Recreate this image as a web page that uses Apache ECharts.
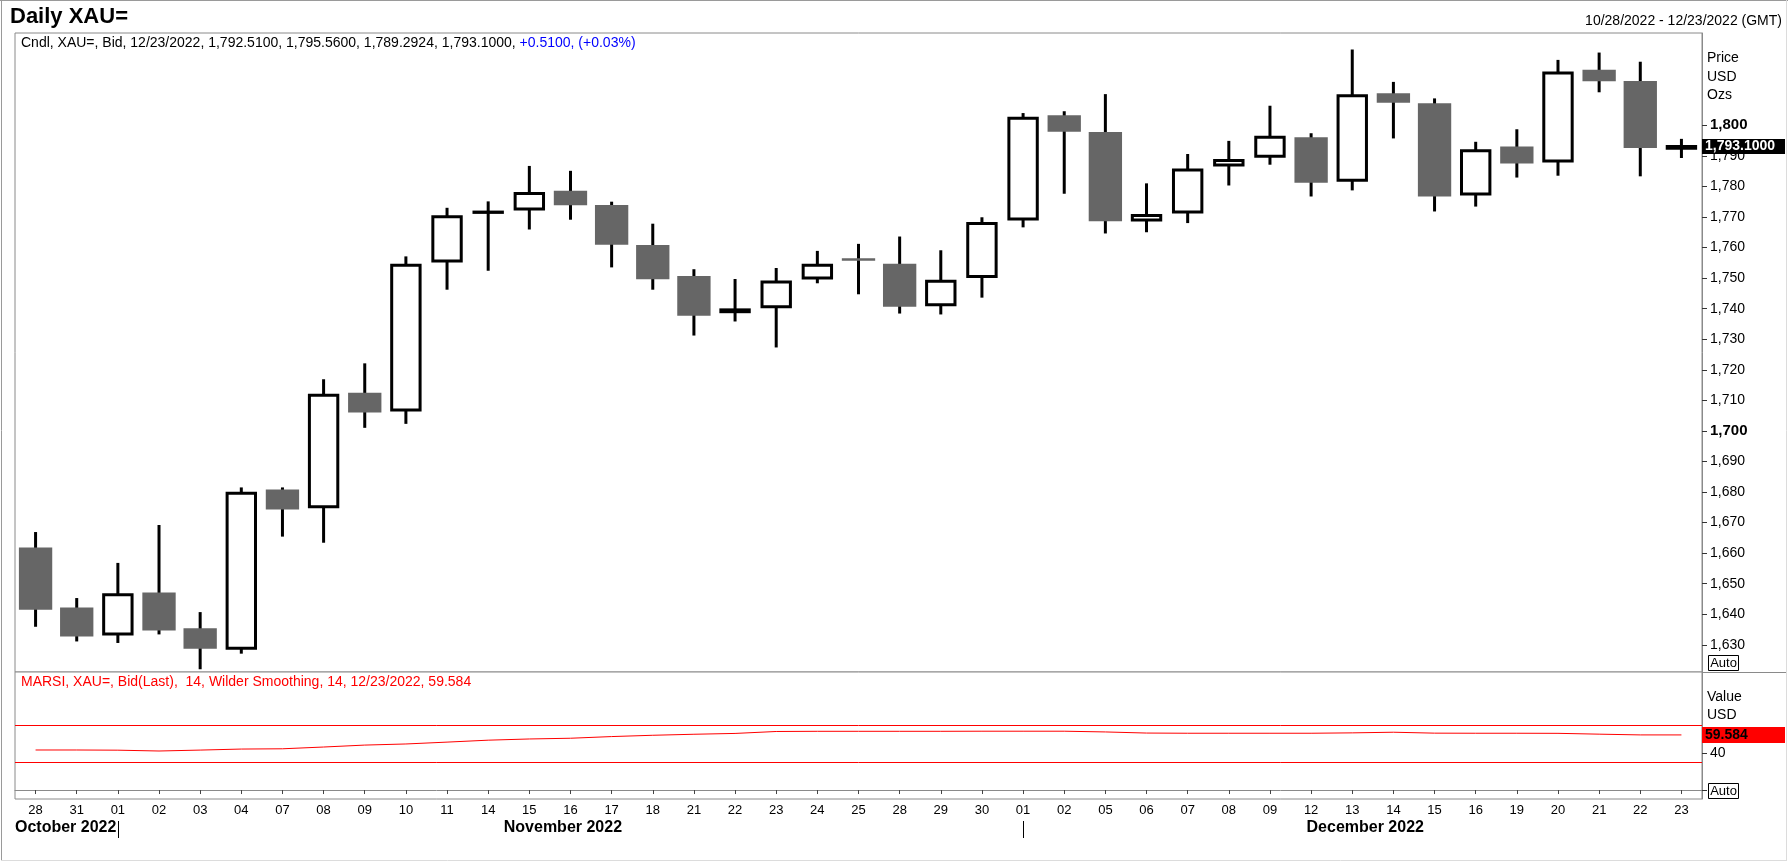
<!DOCTYPE html>
<html>
<head>
<meta charset="utf-8">
<script src="https://cdn.jsdelivr.net/npm/echarts@6/dist/echarts.min.js"></script>
<style>
html,body{margin:0;padding:0;background:#fff;}
#c{width:1788px;height:862px;}
</style>
</head>
<body>
<div id="c"></div>
<script>
// ---------- data ----------
const dates = ['2022-10-28','2022-10-31','2022-11-01','2022-11-02','2022-11-03','2022-11-04','2022-11-07','2022-11-08','2022-11-09','2022-11-10','2022-11-11','2022-11-14','2022-11-15','2022-11-16','2022-11-17','2022-11-18','2022-11-21','2022-11-22','2022-11-23','2022-11-24','2022-11-25','2022-11-28','2022-11-29','2022-11-30','2022-12-01','2022-12-02','2022-12-05','2022-12-06','2022-12-07','2022-12-08','2022-12-09','2022-12-12','2022-12-13','2022-12-14','2022-12-15','2022-12-16','2022-12-19','2022-12-20','2022-12-21','2022-12-22','2022-12-23'];
const openVals  = [1661.8,1642.2,1633.5,1647.1,1635.4,1628.9,1680.8,1675.2,1712.5,1706.8,1755.6,1771.5,1772.6,1778.6,1773.9,1760.8,1750.7,1739.0,1740.6,1750.0,1756.2,1754.7,1741.3,1750.5,1769.3,1803.3,1797.8,1769.0,1771.6,1787.0,1789.9,1796.1,1782.0,1810.5,1807.2,1777.5,1793.1,1788.3,1818.2,1814.5,1792.51];
const closeVals = [1641.5,1632.7,1646.4,1634.7,1628.7,1679.6,1674.3,1711.7,1706.0,1754.2,1770.1,1771.6,1777.7,1773.8,1760.9,1749.6,1737.7,1739.6,1748.7,1754.2,1756.0,1740.6,1749.0,1767.9,1802.3,1797.9,1768.6,1770.5,1785.4,1788.5,1796.1,1781.2,1809.7,1807.4,1776.7,1791.7,1787.5,1817.1,1814.4,1792.59,1793.10];
const lowVals   = [1635.9,1631.1,1630.6,1633.4,1622.0,1627.1,1665.4,1663.4,1701.0,1702.3,1746.2,1752.4,1765.9,1769.1,1753.5,1746.2,1731.2,1735.8,1727.3,1748.3,1744.7,1738.4,1738.1,1743.6,1766.6,1777.6,1764.6,1765.0,1768.0,1780.3,1787.1,1776.7,1778.7,1795.7,1771.8,1773.4,1782.9,1783.5,1810.8,1783.3,1789.2924];
const highVals  = [1666.9,1645.3,1656.8,1669.2,1640.7,1681.5,1681.5,1716.9,1722.1,1757.1,1773.0,1775.1,1786.7,1785.1,1775.0,1767.8,1752.9,1749.7,1753.3,1758.9,1761.2,1763.6,1759.1,1769.9,1804.0,1804.6,1810.2,1781.0,1790.6,1794.9,1806.4,1797.4,1824.8,1814.2,1808.8,1794.6,1798.7,1821.4,1823.8,1820.8,1795.56];
const rsiVals   = [43.3,43.3,43.1,42.2,43.2,44.3,44.6,46.5,48.6,49.8,51.8,53.9,55.2,56.0,57.8,59.2,60.3,61.2,63.3,63.5,63.5,63.5,63.5,63.6,63.6,63.6,62.8,61.6,61.4,61.4,61.4,61.4,61.8,62.5,61.5,61.4,61.4,61.3,60.4,59.6,59.584];
const rsiLevels = [70, 30];
const priceTicks = [1630,1640,1650,1660,1670,1680,1690,1700,1710,1720,1730,1740,1750,1760,1770,1780,1790,1800];
const rsiTicks = [0, 40];
const rsiLabelTicks = [40];
const monthNames = ['January','February','March','April','May','June','July','August','September','October','November','December'];

// ---------- helpers ----------
const FONT = '"Liberation Sans", Arial, Helvetica, sans-serif';
const fmtN = (v, d) => v.toLocaleString('en-US', {minimumFractionDigits: d, maximumFractionDigits: d});
const mdy = s => s.slice(5,7) + '/' + s.slice(8,10) + '/' + s.slice(0,4);
const n = dates.length;
const last = n - 1;
const chg = closeVals[last] - closeVals[last-1];
const chgPct = chg / closeVals[last-1] * 100;
const sign = v => (v >= 0 ? '+' : '');
const lastRsi = rsiVals[last];

const candleData = dates.map((d, i) => [i, openVals[i], closeVals[i], lowVals[i], highVals[i]]);

function renderCandle(params, api) {
  const i = api.value(0);
  const o = api.value(1), c = api.value(2), l = api.value(3), h = api.value(4);
  const pO = api.coord([i, o]);
  const x = pO[0];
  const yO = pO[1];
  const yC = api.coord([i, c])[1];
  const yL = api.coord([i, l])[1];
  const yH = api.coord([i, h])[1];
  const band = api.size([1, 0])[0];
  const up = c >= o;
  const top = Math.min(yO, yC), bot = Math.max(yO, yC);
  const children = [{
    type: 'line',
    shape: {x1: x, y1: yH, x2: x, y2: yL},
    style: {stroke: '#000', lineWidth: 3}
  }];
  if (up) {
    const w = band * 0.69;
    children.push({
      type: 'rect',
      shape: {x: x - w / 2, y: top, width: w, height: bot - top},
      style: {fill: '#fff', stroke: '#000', lineWidth: 3}
    });
  } else {
    const w = band * 0.81;
    let t = top, hh = bot - top;
    if (hh < 2.5) { t = (top + bot) / 2 - 1.25; hh = 2.5; }
    children.push({
      type: 'rect',
      shape: {x: x - w / 2, y: t, width: w, height: hh},
      style: {fill: '#666666'}
    });
  }
  return {type: 'group', children};
}

const chart = echarts.init(document.getElementById('c'), null, {renderer: 'canvas'});

const GL = 15, GR = 1702, GT = 33, GM = 672, GB = 799;

const option = {
  animation: false,
  backgroundColor: '#fff',
  textStyle: {fontFamily: FONT},
  grid: [
    {left: GL, top: GT, width: GR - GL, height: GM - GT, show: true, borderColor: '#8a8a8a', borderWidth: 1, backgroundColor: '#fff', containLabel: false},
    {left: GL, top: GM, width: GR - GL, height: GB - GM, show: true, borderColor: '#8a8a8a', borderWidth: 1, backgroundColor: '#fff', containLabel: false}
  ],
  xAxis: [
    {type: 'category', gridIndex: 0, data: dates, boundaryGap: true, show: false},
    {type: 'category', gridIndex: 1, data: dates, boundaryGap: true,
      axisLine: {show: true, lineStyle: {color: '#8a8a8a'}},
      axisTick: {show: true, alignWithLabel: true, interval: 0, length: 4, lineStyle: {color: '#444'}},
      axisLabel: {interval: 0, margin: 5, color: '#000', fontSize: 13, fontFamily: FONT, formatter: v => v.slice(8, 10)},
      splitLine: {show: false}}
  ],
  yAxis: [
    {type: 'value', gridIndex: 0, position: 'right', min: 1621.1, max: 1830.2, scale: true,
      axisLine: {show: true, lineStyle: {color: '#8a8a8a'}},
      axisTick: {show: true, customValues: priceTicks, length: 5, lineStyle: {color: '#333'}},
      axisLabel: {show: true, customValues: priceTicks, margin: 8, color: '#000', fontFamily: FONT,
        formatter: v => (v % 100 === 0 ? '{b|' + fmtN(v, 0) + '}' : '{r|' + fmtN(v, 0) + '}'),
        rich: {b: {fontSize: 15, fontWeight: 'bold', color: '#000', fontFamily: FONT}, r: {fontSize: 14, color: '#000', fontFamily: FONT}}},
      splitLine: {show: false}},
    {type: 'value', gridIndex: 1, position: 'right', min: -9.68, max: 127.6,
      axisLine: {show: true, lineStyle: {color: '#8a8a8a'}},
      axisTick: {show: true, customValues: rsiTicks, length: 5, lineStyle: {color: '#333'}},
      axisLabel: {show: true, customValues: rsiLabelTicks, margin: 8, color: '#000', fontSize: 14, fontFamily: FONT,
        formatter: v => String(v)},
      splitLine: {show: false}}
  ],
  series: [
    {
      type: 'custom', name: 'Cndl', xAxisIndex: 0, yAxisIndex: 0,
      renderItem: renderCandle,
      encode: {x: 0, y: [1, 2, 3, 4]},
      data: candleData,
      clip: false,
      z: 3,
      markLine: {
        silent: true, animation: false, symbol: ['none', 'none'],
        data: [{yAxis: closeVals[last]}],
        lineStyle: {color: 'rgba(0,0,0,0)', width: 1},
        label: {show: true, position: 'end', distance: 0, formatter: fmtN(closeVals[last], 4),
          backgroundColor: '#000', color: '#fff', fontWeight: 'bold', fontSize: 14, fontFamily: FONT,
          lineHeight: 14, width: 77, padding: [1, 3, 0, 3], align: 'left'}
      }
    },
    {
      type: 'line', name: 'MARSI', xAxisIndex: 1, yAxisIndex: 1,
      data: rsiVals, symbol: 'none', showSymbol: false,
      clip: false,
      lineStyle: {color: '#ff0000', width: 1}, itemStyle: {color: '#ff0000'},
      z: 3,
      markLine: {
        silent: true, animation: false, symbol: ['none', 'none'],
        data: rsiLevels.map(v => ({yAxis: v, label: {show: false}, lineStyle: {color: '#ff0000', width: 1, type: 'solid'}}))
          .concat([{yAxis: lastRsi, lineStyle: {color: 'rgba(0,0,0,0)', width: 1},
            label: {show: true, position: 'end', distance: 0, formatter: lastRsi.toFixed(3),
              backgroundColor: '#ff0000', color: '#000', fontWeight: 'bold', fontSize: 14, fontFamily: FONT,
              lineHeight: 14, width: 77, padding: [1, 3, 1, 3], align: 'left'}}])
      }
    }
  ]
};
chart.setOption(option);

// ---------- annotation / chrome ----------
const headerMain = 'Cndl, XAU=, Bid, ' + mdy(dates[last]) + ', ' + fmtN(openVals[last], 4) + ', ' + fmtN(highVals[last], 4) + ', ' + fmtN(lowVals[last], 4) + ', ' + fmtN(closeVals[last], 4) + ', ';
const headerChg = sign(chg) + fmtN(chg, 4) + ', (' + sign(chgPct) + chgPct.toFixed(2) + '%)';
const rsiHeader = 'MARSI, XAU=, Bid(Last),  14, Wilder Smoothing, 14, ' + mdy(dates[last]) + ', ' + lastRsi.toFixed(3);

const g = [];
const Z = 100;
// outer frame
g.push({type: 'line', z: Z, silent: true, shape: {x1: 0, y1: 0.5, x2: 1788, y2: 0.5}, style: {stroke: '#9a9a9a', lineWidth: 1}});
g.push({type: 'line', z: Z, silent: true, shape: {x1: 1.5, y1: 0, x2: 1.5, y2: 861}, style: {stroke: '#9a9a9a', lineWidth: 1}});
g.push({type: 'line', z: Z, silent: true, shape: {x1: 1786.5, y1: 0, x2: 1786.5, y2: 861}, style: {stroke: '#dcdcdc', lineWidth: 1}});
g.push({type: 'line', z: Z, silent: true, shape: {x1: 1, y1: 860.5, x2: 1787, y2: 860.5}, style: {stroke: '#dcdcdc', lineWidth: 1}});
// separator extension right of the axis
g.push({type: 'line', z: Z, silent: true, shape: {x1: GR, y1: GM + 0.5, x2: 1786, y2: GM + 0.5}, style: {stroke: '#8a8a8a', lineWidth: 1}});
// title
g.push({type: 'text', z: Z, silent: true, x: 10, y: 17, style: {text: 'Daily XAU=', fontFamily: FONT, fontSize: 22, fontWeight: 'bold', fill: '#000', verticalAlign: 'middle', align: 'left'}});
// date range
g.push({type: 'text', z: Z, silent: true, x: 1782, y: 21.5, style: {text: mdy(dates[0]) + ' - ' + mdy(dates[last]) + ' (GMT)', fontFamily: FONT, fontSize: 14, fill: '#000', verticalAlign: 'middle', align: 'right'}});
// header legend
g.push({type: 'text', z: Z, silent: true, x: 21, y: 43, style: {
  text: '{k|' + headerMain + '}{c|' + headerChg + '}',
  verticalAlign: 'middle', align: 'left',
  rich: {k: {fontFamily: FONT, fontSize: 14, fill: '#000', color: '#000'}, c: {fontFamily: FONT, fontSize: 14, fill: '#0000ff', color: '#0000ff'}}
}});
// RSI header
g.push({type: 'text', z: Z, silent: true, x: 21, y: 682.5, style: {text: rsiHeader, fontFamily: FONT, fontSize: 14, fill: '#ff0000', verticalAlign: 'middle', align: 'left'}});
// price axis title
['Price', 'USD', 'Ozs'].forEach((t, k) => {
  g.push({type: 'text', z: Z, silent: true, x: 1707, y: 58.5 + k * 18.5, style: {text: t, fontFamily: FONT, fontSize: 14, fill: '#000', verticalAlign: 'middle', align: 'left'}});
});
['Value', 'USD'].forEach((t, k) => {
  g.push({type: 'text', z: Z, silent: true, x: 1707, y: 697.5 + k * 18, style: {text: t, fontFamily: FONT, fontSize: 14, fill: '#000', verticalAlign: 'middle', align: 'left'}});
});
// Auto buttons
[[1708.5, 655.5], [1708.5, 783.5]].forEach(p => {
  g.push({type: 'rect', z: Z, silent: true, shape: {x: p[0], y: p[1], width: 30, height: 15}, style: {fill: '#fff', stroke: '#000', lineWidth: 1}});
  g.push({type: 'text', z: Z + 1, silent: true, x: p[0] + 15, y: p[1] + 8, style: {text: 'Auto', fontFamily: FONT, fontSize: 13, fill: '#000', verticalAlign: 'middle', align: 'center'}});
});

// month labels under the date axis
const months = [];
dates.forEach((d, i) => {
  const key = d.slice(0, 7);
  if (!months.length || months[months.length - 1].key !== key) months.push({key, first: i, last: i});
  else months[months.length - 1].last = i;
});
months.forEach((m, k) => {
  const name = monthNames[+m.key.slice(5, 7) - 1] + ' ' + m.key.slice(0, 4);
  const xf = chart.convertToPixel({xAxisIndex: 1}, dates[m.first]);
  const xl = chart.convertToPixel({xAxisIndex: 1}, dates[m.last]);
  const startsMonth = dates[m.first].slice(8, 10) === '01';
  if (!startsMonth && k === 0) {
    g.push({type: 'text', z: Z, silent: true, x: GL, y: 828, style: {text: name, fontFamily: FONT, fontSize: 16, fontWeight: 'bold', fill: '#000', verticalAlign: 'middle', align: 'left'}});
  } else {
    g.push({type: 'text', z: Z, silent: true, x: (xf + xl) / 2 + 13, y: 828, style: {text: name, fontFamily: FONT, fontSize: 16, fontWeight: 'bold', fill: '#000', verticalAlign: 'middle', align: 'center'}});
  }
  if (startsMonth) {
    g.push({type: 'line', z: Z, silent: true, shape: {x1: Math.round(xf) + 0.5, y1: 821, x2: Math.round(xf) + 0.5, y2: 838}, style: {stroke: '#000', lineWidth: 1}});
  }
});

chart.setOption({graphic: {elements: g}});
</script>
</body>
</html>
